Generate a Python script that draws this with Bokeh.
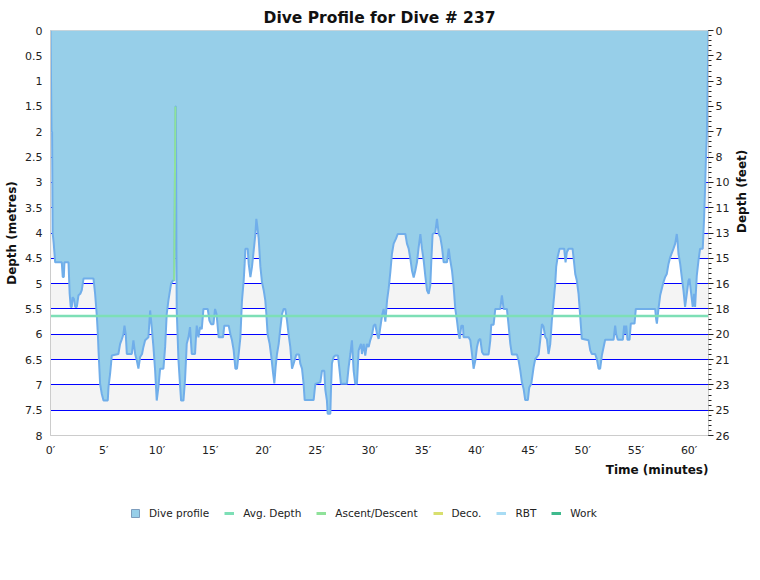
import math
from bokeh.plotting import figure
from bokeh.layouts import column
from bokeh.models import (Range1d, LinearAxis, FixedTicker, CustomJSTickFormatter,
                          Legend, LegendItem, BoxAnnotation)
from bokeh.embed import file_html
from bokeh.resources import INLINE

title_text = "Dive Profile for Dive # 237"
x_title = "Time (minutes)"

time_min = [
    0.0, 0.1, 0.15, 0.2, 0.3, 0.44, 1.06, 1.15, 1.25, 1.31, 1.69, 1.8, 1.9, 2.0, 2.07, 2.2,
    2.32, 2.47, 2.63, 2.8, 2.94, 3.1, 4.04, 4.19, 4.35, 4.45, 4.51, 4.66, 4.82, 4.98, 5.38,
    5.45, 5.6, 5.76, 6.38, 6.54, 6.7, 6.85, 6.95, 7.07, 7.17, 7.64, 7.79, 7.95, 8.11, 8.26,
    8.42, 8.6, 8.73, 8.89, 9.2, 9.36, 9.51, 9.67, 9.83, 9.98, 10.14, 10.3, 10.61, 10.77,
    10.92, 11.08, 11.33, 11.5, 11.62, 11.74, 11.78, 11.8, 11.83, 11.86, 12.02, 12.17, 12.27,
    12.49, 12.64, 12.8, 12.96, 13.11, 13.27, 13.58, 13.65, 13.74, 13.9, 14.05, 14.21, 14.37,
    14.77, 14.93, 15.09, 15.31, 15.46, 15.6, 15.8, 16.21, 16.33, 16.74, 16.9, 17.05, 17.21,
    17.37, 17.52, 17.68, 17.84, 17.99, 18.15, 18.24, 18.31, 18.53, 18.62, 18.78, 18.93,
    19.09, 19.25, 19.34, 19.4, 19.56, 19.72, 19.87, 20.03, 20.18, 20.28, 20.4, 20.59, 20.75,
    20.9, 21.03, 21.15, 21.28, 21.44, 21.59, 21.75, 21.91, 22.06, 22.22, 22.38, 22.53, 22.69,
    22.84, 23.1, 23.35, 23.47, 23.63, 23.78, 23.88, 24.72, 24.88, 25.35, 25.51, 25.72, 25.82,
    25.97, 26.04, 26.29, 26.35, 26.44, 26.6, 26.76, 27.01, 27.16, 27.29, 27.85, 28.01, 28.17,
    28.32, 28.48, 28.63, 28.79, 28.95, 29.17, 29.26, 29.42, 29.57, 29.73, 29.89, 30.04, 30.2,
    30.36, 30.51, 30.68, 30.83, 30.99, 31.15, 31.3, 31.46, 31.62, 31.77, 31.93, 32.08, 32.24,
    32.46, 32.62, 33.34, 33.49, 33.65, 33.81, 33.96, 34.12, 34.28, 34.43, 34.59, 34.75, 34.9,
    35.06, 35.21, 35.37, 35.53, 35.68, 35.78, 35.9, 36.15, 36.31, 36.47, 36.62, 36.78, 36.94,
    37.25, 37.41, 37.56, 37.72, 37.88, 38.03, 38.19, 38.34, 38.44, 38.6, 38.75, 38.81, 39.28,
    39.44, 39.6, 39.75, 39.91, 40.07, 40.22, 40.38, 40.54, 40.69, 41.16, 41.32, 41.41, 41.63,
    41.79, 42.26, 42.35, 42.41, 42.57, 42.88, 43.04, 43.2, 43.35, 43.82, 43.98, 44.14, 44.29,
    44.45, 44.6, 44.85, 44.98, 45.17, 45.39, 45.54, 45.86, 46.01, 46.17, 46.32, 46.48, 46.64,
    46.79, 46.95, 47.1, 47.26, 47.42, 47.51, 47.64, 47.83, 48.26, 48.39, 48.51, 48.67, 49.05,
    49.14, 49.3, 49.45, 49.61, 49.77, 49.92, 50.55, 50.71, 50.86, 51.17, 51.33, 51.49, 51.64,
    51.8, 52.11, 52.9, 53.05, 53.15, 53.3, 53.77, 53.9, 53.99, 54.09, 54.21, 54.4, 54.52,
    54.87, 54.99, 56.81, 56.9, 56.97, 57.12, 57.28, 57.59, 57.75, 57.9, 58.06, 58.22, 58.53,
    58.69, 58.84, 58.91, 59.0, 59.16, 59.31, 59.47, 59.62, 59.78, 59.94, 60.03, 60.16, 60.25,
    60.34, 60.47, 60.56, 60.72, 60.88, 61.03, 61.28, 61.41, 61.5, 61.6, 61.66, 61.75, 61.82,
]

depth_m = [
    0.0, 2.0, 2.0, 4.0, 4.2, 4.58, 4.58, 4.87, 4.87, 4.58, 4.58, 5.2, 5.46, 5.46, 5.27, 5.3,
    5.46, 5.46, 5.23, 5.2, 5.13, 4.9, 4.9, 5.2, 5.63, 6.0, 6.32, 6.98, 7.18, 7.31, 7.31,
    7.04, 6.78, 6.42, 6.39, 6.19, 6.1, 6.0, 5.83, 6.0, 6.39, 6.39, 6.12, 6.39, 6.52, 6.68,
    6.45, 6.39, 6.25, 6.12, 6.06, 5.53, 5.86, 6.25, 6.72, 7.31, 7.04, 6.68, 6.68, 6.25,
    5.6, 5.33, 5.0, 4.94, 4.94, 1.5, 1.5, 2.4, 4.3, 5.53, 6.5, 7.0, 7.31,
    7.31, 6.9, 6.19, 6.06, 5.86, 6.39, 6.39, 6.12, 5.83, 6.06, 5.86, 5.9, 5.5,
    5.5, 5.73, 5.8, 5.8, 5.5, 5.6, 6.06, 6.06, 5.83, 5.83, 6.0, 6.12, 6.32,
    6.68, 6.68, 6.39, 6.06, 5.33, 4.94, 4.61, 4.31, 4.31, 4.61, 4.87, 4.67,
    4.35, 4.02, 3.72, 3.82, 4.11, 4.67, 4.97, 5.13, 5.33, 5.6, 6.0, 6.19, 6.45,
    6.75, 6.97, 6.65, 6.39, 6.19, 5.89, 5.6, 5.5, 5.5, 5.73, 6.02, 6.25, 6.68,
    6.58, 6.4, 6.4, 6.58, 6.68, 6.98, 7.3, 7.3, 6.98, 6.95, 6.72, 6.72, 7.1,
    7.31, 7.57, 7.57, 7.1, 6.58, 6.45, 6.42, 6.42, 6.72, 6.98, 6.98, 6.65, 6.39,
    6.12, 6.72, 6.98, 6.98, 6.32, 6.19, 6.39, 6.19, 6.42, 6.19, 6.25, 6.12, 6.02,
    5.83, 5.8, 6.0, 6.09, 5.86, 5.63, 5.5, 5.75, 5.33, 5.1, 4.77, 4.41, 4.21,
    4.11, 4.02, 4.02, 4.21, 4.31, 4.51, 4.74, 4.88, 4.74, 4.58, 4.28, 4.02, 4.31,
    4.54, 4.84, 5.13, 5.2, 5.04, 4.54, 4.02, 3.99, 3.72, 4.02, 4.08, 4.28, 4.58,
    4.58, 4.31, 4.54, 4.74, 5.07, 5.5, 5.73, 6.0, 6.09, 5.83, 5.83, 6.06, 6.06,
    6.12, 6.39, 6.68, 6.52, 6.25, 6.12, 6.09, 6.35, 6.4, 6.4, 6.12, 5.81, 5.81,
    5.5, 5.5, 5.33, 5.23, 5.5, 5.5, 5.83, 6.19, 6.4, 6.4, 6.52, 6.72, 6.95,
    7.08, 7.3, 7.3, 7.05, 6.98, 6.65, 6.49, 6.4, 6.12, 5.8, 5.85, 6.05, 6.1,
    6.39, 6.2, 5.73, 5.37, 5.0, 4.67, 4.48, 4.31, 4.31, 4.58, 4.38, 4.31, 4.31,
    4.48, 4.81, 4.94, 5.2, 5.66, 6.09, 6.12, 6.32, 6.39, 6.39, 6.49, 6.68, 6.68,
    6.42, 6.11, 6.11, 5.83, 6.0, 6.11, 6.11, 5.83, 6.0, 5.83, 6.11, 6.11, 5.79,
    5.79, 5.5, 5.5, 5.7, 5.79, 5.5, 5.23, 4.97, 4.87, 4.81, 4.61, 4.48, 4.31,
    4.21, 4.02, 4.15, 4.41, 4.61, 4.87, 5.14, 5.46, 5.2, 4.94, 4.9, 5.14, 5.3,
    5.46, 5.2, 5.46, 4.84, 4.54, 4.31, 4.31, 3.69, 3.1, 2.37, 2.11, 1.0, 0.0,
]

avg_depth_m = 5.64
ascent_time = [11.62, 11.74]
ascent_depth = [4.94, 1.5]

depth_ticks = [i * 0.5 for i in range(17)]
depth_minor_ticks = [round(i * 0.1, 1) for i in range(81)]
time_ticks = list(range(0, 61, 5))
legend_labels = ["Dive profile", "Avg. Depth", "Ascent/Descent", "Deco.", "RBT", "Work"]

FONT = "DejaVu Sans"
FILL = "#97cfe9"
OUTLINE = "#70aeea"
AVG = "#7ddfb6"
ASC = "#8fe29a"
DECO = "#d8df6e"
RBT = "#a8dcf4"
WORK = "#3fba8d"

p = figure(width=760, height=460, output_backend="svg", toolbar_location=None,
           x_range=Range1d(0, time_min[-1]), y_range=Range1d(8, 0),
           min_border_left=50, min_border_right=52, min_border_top=30,
           min_border_bottom=25, title=title_text)
p.background_fill_color = "white"
p.border_fill_color = "white"
p.outline_line_color = "#cccccc"

p.title.align = "center"
p.title.text_font = FONT
p.title.text_font_size = "15.5px"
p.title.text_font_style = "bold"
p.title.text_color = "#111111"
p.title.standoff = 8

# alternating bands
for start in depth_ticks[::2]:
    if start < depth_ticks[-1]:
        p.add_layout(BoxAnnotation(top=start, bottom=start + 0.5, fill_color="#f4f4f4",
                                   fill_alpha=1.0, line_color=None, level="image"))

p.xgrid.visible = False
p.ygrid.ticker = FixedTicker(ticks=depth_ticks)
p.ygrid.grid_line_color = "#0000ff"
p.ygrid.grid_line_width = 1

# left axis
ya = p.yaxis[0]
ya.ticker = FixedTicker(ticks=depth_ticks)
ya.formatter = CustomJSTickFormatter(code="return tick.toString();")
ya.axis_label = "Depth (metres)"
ya.axis_line_color = "#cccccc"
ya.major_tick_line_color = None
ya.minor_tick_line_color = None
ya.major_tick_out = 0
ya.major_tick_in = 0
ya.major_label_standoff = 8
ya.axis_label_standoff = 3

# bottom axis
xa = p.xaxis[0]
xa.ticker = FixedTicker(ticks=time_ticks)
xa.formatter = CustomJSTickFormatter(code="return tick + '\u2032';")
xa.axis_line_color = "#cccccc"
xa.major_tick_line_color = None
xa.minor_tick_line_color = None
xa.major_tick_out = 0
xa.major_tick_in = 0
xa.major_label_standoff = 8

# right axis in feet
ra = LinearAxis(ticker=FixedTicker(ticks=depth_ticks, minor_ticks=depth_minor_ticks),
                formatter=CustomJSTickFormatter(code="return Math.round(tick * 3.28084).toString();"),
                axis_label="Depth (feet)")
ra.axis_line_color = "#cccccc"
ra.major_tick_line_color = "#222222"
ra.minor_tick_line_color = "#222222"
ra.major_tick_out = 5
ra.major_tick_in = 0
ra.minor_tick_out = 3
ra.minor_tick_in = 0
ra.major_label_standoff = 2
ra.axis_label_standoff = 10
ra.axis_label_orientation = math.pi / 2
p.add_layout(ra, "right")

for ax in (ya, xa, ra):
    ax.major_label_text_font = FONT
    ax.major_label_text_font_size = "11px"
    ax.major_label_text_color = "#222222"
    ax.axis_label_text_font = FONT
    ax.axis_label_text_font_size = "12px"
    ax.axis_label_text_font_style = "bold"
    ax.axis_label_text_color = "#111111"

# data glyphs
p.varea(x=time_min, y1=[0.0] * len(time_min), y2=depth_m, fill_color=FILL, fill_alpha=1.0)
p.line(x=time_min, y=depth_m, line_color=OUTLINE, line_width=2)
p.line(x=[time_min[0], time_min[-1]], y=[avg_depth_m, avg_depth_m], line_color=AVG,
       line_width=2.5)
p.line(x=ascent_time, y=ascent_depth, line_color=ASC, line_width=2)

# ---- lower strip: x-axis title and legend ----
p2 = figure(width=760, height=120, output_backend="svg", toolbar_location=None,
            x_axis_location=None, y_axis_location=None, title=x_title,
            min_border_left=50, min_border_right=50, min_border_top=0, min_border_bottom=0,
            x_range=Range1d(0, 1), y_range=Range1d(0, 1))
p2.outline_line_color = None
p2.grid.visible = False
p2.title.align = "right"
p2.title.text_font = FONT
p2.title.text_font_size = "12px"
p2.title.text_font_style = "bold"
p2.title.text_color = "#111111"
p2.title.standoff = 0

nan = float("nan")
r_prof = p2.quad(left=[nan], right=[nan], top=[nan], bottom=[nan], fill_color=FILL,
                 line_color="#7d9dbd", line_width=1)
r_avg = p2.line(x=[nan], y=[nan], line_color=AVG, line_width=3)
r_asc = p2.line(x=[nan], y=[nan], line_color=ASC, line_width=3)
r_deco = p2.line(x=[nan], y=[nan], line_color=DECO, line_width=3)
r_rbt = p2.line(x=[nan], y=[nan], line_color=RBT, line_width=3)
r_work = p2.line(x=[nan], y=[nan], line_color=WORK, line_width=3)

legend = Legend(items=[LegendItem(label=l, renderers=[r]) for l, r in
                       zip(legend_labels, [r_prof, r_avg, r_asc, r_deco, r_rbt, r_work])],
                orientation="horizontal", location=(80, 61),
                glyph_width=10, glyph_height=10, label_standoff=9, spacing=15,
                label_text_font=FONT, label_text_font_size="10.5px", label_text_color="#222222",
                border_line_color=None, background_fill_alpha=0, margin=0, padding=5)
p2.add_layout(legend, "center")

layout = column(p, p2, spacing=0)
open("out.html", "w").write(file_html(layout, INLINE))
